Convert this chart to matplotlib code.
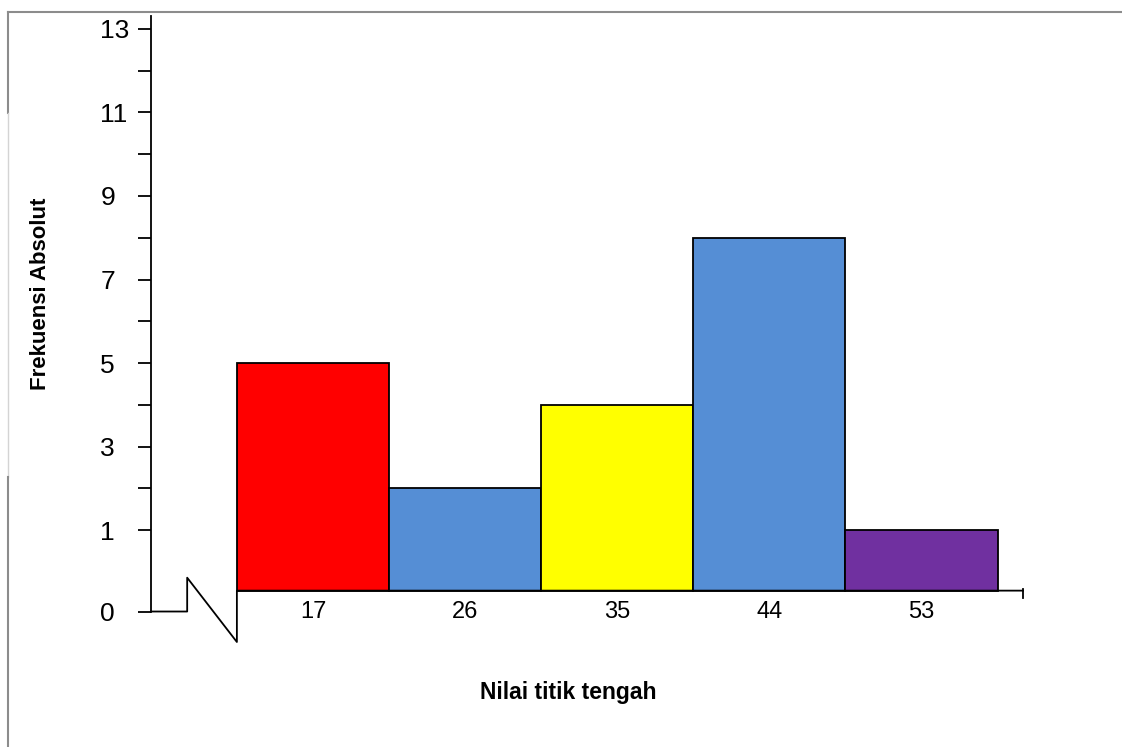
import numpy as np
import matplotlib
matplotlib.use("Agg")
import matplotlib.pyplot as plt
from matplotlib.lines import Line2D

plt.rcParams['font.family'] = ['Liberation Sans', 'DejaVu Sans']

# class midpoints and absolute frequencies
midpoints = [17, 26, 35, 44, 53]
frequencies = [5, 2, 4, 8, 1]
bar_colors = ['#FF0000', '#558ED5', '#FFFF00', '#558ED5', '#7030A0']
class_width = 9

major_ticks = [1, 3, 5, 7, 9, 11, 13]
minor_ticks = [2, 4, 6, 8, 10, 12]

# broken axis: where the "0" sits and where the bars start
ZERO_POS = -0.95
BASE = -0.45
X_LEFT, X_RIGHT = 7.42, 59.0
Y_BOTTOM, Y_TOP = -1.68, 13.31

W, H = 1122, 747
fig = plt.figure(figsize=(W / 100, H / 100), dpi=100)
ax = fig.add_axes([151 / W, 1 - 642 / H, (1023 - 151) / W, (642 - 16) / H])
ax.set_xlim(X_LEFT, X_RIGHT)
ax.set_ylim(Y_BOTTOM, Y_TOP)

for side in ['top', 'right', 'bottom']:
    ax.spines[side].set_visible(False)
ax.spines['left'].set_bounds(ZERO_POS, Y_TOP)
ax.spines['left'].set_linewidth(1.3)

heights = np.array(frequencies) - BASE
ax.bar(midpoints, heights, bottom=BASE, width=class_width, color=bar_colors,
       edgecolor='black', linewidth=1.3, zorder=3)

# y axis ticks, labels left-aligned like the original
ax.set_yticks([ZERO_POS] + major_ticks)
ax.set_yticklabels(['0'] + [str(t) for t in major_ticks], fontsize=19)
ax.set_yticks(minor_ticks, minor=True)
ax.tick_params(axis='y', which='both', direction='out', length=9.4, width=1.3, pad=27)
for lbl in ax.get_yticklabels():
    lbl.set_horizontalalignment('left')
ax.set_xticks([])

# baseline with the zigzag break
ax.plot([X_LEFT, 9.56, 9.56, 12.5, 12.5, X_RIGHT],
        [ZERO_POS, ZERO_POS, -0.14, Y_BOTTOM, BASE, BASE],
        color='black', lw=1.3, clip_on=False, zorder=4)
ax.plot([X_RIGHT, X_RIGHT], [-0.40, -0.62], color='black', lw=1.3, clip_on=False)

for m in midpoints:
    ax.text(m, ZERO_POS, str(m), ha='center', va='center', fontsize=17)

fig.text(41 / W, 1 - 294 / H, 'Frekuensi Absolut', rotation=90, ha='center', va='center',
         fontsize=16, fontweight='bold')
fig.text(568 / W, 1 - 699 / H, 'Nilai titik tengah', ha='center', va='baseline',
         fontsize=16.5, fontweight='bold')

# outer frame
fig.add_artist(Line2D([8 / W, 1], [1 - 12 / H, 1 - 12 / H], color='#8c8c8c', lw=1.5))
fig.add_artist(Line2D([8 / W, 8 / W], [1 - 12 / H, 1 - 113 / H], color='#8c8c8c', lw=1.5))
fig.add_artist(Line2D([8 / W, 8 / W], [1 - 113 / H, 1 - 477 / H], color='#d4d4d4', lw=1))
fig.add_artist(Line2D([8 / W, 8 / W], [1 - 477 / H, 0], color='#8c8c8c', lw=1.5))

fig.savefig('out.png', dpi=100)
